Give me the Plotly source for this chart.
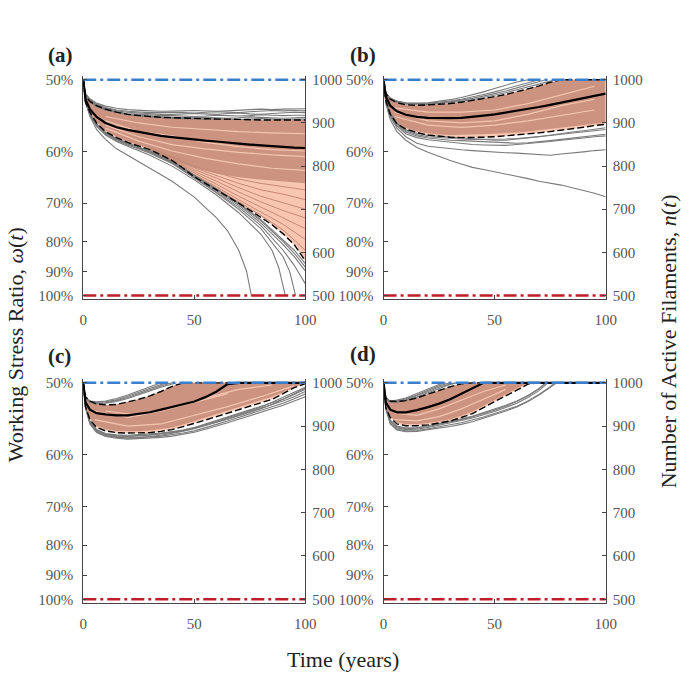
import plotly.graph_objects as go

# ---------------- data (n(t) = number of active filaments) ----------------
T = [0, 1, 3, 6, 10, 15, 20, 25, 30, 35, 40, 45, 50, 55, 60, 65, 70, 75, 80, 85, 90, 95, 100]
N_MAX = 1000
N_FAIL = 500
T_RANGE = [0, 100]

# percent ticks on the left axis: omega = 500 / n
OMEGA_LABELS = ["50%", "60%", "70%", "80%", "90%", "100%"]
OMEGA_VALUES = [0.5, 0.6, 0.7, 0.8, 0.9, 1.0]
N_TICKS = [500, 600, 700, 800, 900, 1000]
X_TICKS = [0, 50, 100]

# ---- panel (a)
A_MEAN = [1000, 955, 932, 914, 900, 890, 884, 879, 874, 870, 867, 864, 862, 859, 857, 854, 852, 850, 848, 846, 845, 843, 842]
A_HI = [1000, 962, 950, 940, 932, 925, 920, 917, 915, 913, 912, 911, 910, 910, 909, 909, 908, 908, 907, 907, 907, 907, 907]
A_LO = [1000, 948, 925, 900, 880, 866, 855, 847, 838, 826, 813, 795, 775, 760, 745, 730, 714, 698, 682, 664, 643, 618, 580]
A_INNER = [1000, 950, 927, 903, 883, 868, 857, 849, 840, 830, 818, 806, 796, 789, 783, 778, 774, 771, 768, 766, 764, 762, 760]
A_UP = [
    [1000, 968, 956, 946, 939, 934, 931, 929, 928, 927, 927, 928, 929, 928, 927, 928, 930, 931, 932, 931, 932, 933, 933],
    [1000, 966, 954, 944, 936, 930, 927, 925, 924, 924, 925, 924, 923, 925, 926, 925, 924, 926, 928, 929, 928, 929, 928],
    [1000, 965, 952, 942, 934, 928, 925, 923, 921, 920, 920, 921, 922, 921, 920, 922, 923, 921, 920, 922, 924, 925, 924],
    [1000, 964, 951, 940, 932, 926, 922, 920, 918, 917, 917, 916, 915, 916, 918, 917, 916, 917, 919, 918, 917, 918, 918],
    [1000, 963, 950, 939, 931, 925, 920, 917, 915, 914, 913, 912, 912, 913, 912, 911, 912, 914, 913, 912, 911, 912, 913],
    [1000, 962, 949, 938, 930, 924, 919, 916, 914, 912, 911, 910, 909, 909, 910, 909, 908, 909, 910, 909, 908, 909, 909],
]
A_LOW_T = [
    [0, 1, 3, 6, 10, 15, 20, 30, 40, 50, 60, 65, 70, 73.5, 75.7],
    [0, 1, 3, 6, 10, 15, 20, 30, 40, 50, 60, 70, 80, 85, 88, 91],
    [0, 1, 3, 6, 10, 15, 20, 30, 40, 50, 60, 70, 80, 90, 93, 95.6],
    [0, 1, 3, 6, 10, 15, 20, 30, 40, 50, 60, 70, 80, 90, 95, 100],
    [0, 1, 3, 6, 10, 15, 20, 30, 40, 50, 60, 70, 80, 90, 95, 100],
    [0, 1, 3, 6, 10, 15, 20, 30, 40, 50, 60, 70, 80, 90, 95, 100],
    [0, 1, 3, 6, 10, 15, 20, 30, 40, 50, 60, 70, 80, 90, 95, 100],
]
A_LOW = [
    [1000, 950, 915, 885, 862, 840, 825, 795, 765, 728, 680, 650, 605, 557, 500],
    [1000, 947, 918, 892, 872, 857, 846, 825, 800, 768, 733, 692, 642, 605, 565, 500],
    [1000, 948, 919, 894, 874, 859, 849, 830, 806, 771, 738, 700, 655, 590, 555, 500],
    [1000, 949, 920, 895, 876, 861, 851, 832, 808, 774, 741, 705, 662, 605, 570, 527],
    [1000, 949, 921, 896, 877, 862, 852, 833, 809, 776, 744, 709, 668, 618, 590, 557],
    [1000, 950, 922, 897, 878, 863, 853, 834, 810, 778, 747, 712, 673, 625, 598, 566],
    [1000, 950, 922, 897, 878, 864, 854, 835, 811, 779, 748, 714, 676, 630, 605, 574],
]
A_PINK_T = [30, 40, 50, 60, 70, 80, 90, 100]
A_PINK = [
    [842, 822, 800, 785, 770, 760, 752, 745],
    [840, 819, 796, 778, 760, 745, 735, 722],
    [839, 817, 792, 772, 750, 730, 715, 700],
    [839, 815, 788, 765, 740, 717, 697, 680],
    [838, 814, 784, 758, 730, 705, 680, 655],
    [838, 813, 780, 752, 722, 694, 665, 630],
    [838, 813, 777, 748, 717, 686, 652, 605],
]
A_STREAK_T = [10, 25, 40, 55, 70, 85, 100]
A_STREAK = [
    [915, 900, 890, 885, 880, 877, 875],
    [895, 868, 850, 840, 832, 826, 822],
    [888, 858, 835, 818, 805, 795, 790],
    [905, 880, 870, 855, 845, 838, 835],
]

# ---- panel (b)
B_MEAN = [1000, 962, 940, 927, 919, 914, 912, 911, 911, 912, 914, 917, 920, 924, 928, 932, 937, 942, 947, 952, 957, 963, 968]
B_HI = [1000, 968, 955, 947, 942, 941, 942, 943, 945, 948, 952, 956, 961, 966, 972, 979, 986, 994, 1000, 1000, 1000, 1000, 1000]
B_LO = [1000, 952, 920, 898, 886, 878, 872, 869, 867, 866, 866, 867, 868, 870, 872, 874, 877, 880, 883, 886, 890, 894, 897]
B_INNER = [1000, 954, 923, 901, 889, 881, 876, 873, 872, 872, 873, 874, 875, 876, 878, 880, 882, 885, 888, 891, 895, 898, 901]
B_UP_T = [
    [0, 1, 3, 6, 10, 15, 20, 25, 30, 35, 40, 45, 50, 55, 60, 65],
    [0, 1, 3, 6, 10, 15, 20, 25, 30, 35, 40, 45, 50, 55, 60, 65, 70],
    [0, 1, 3, 6, 10, 15, 20, 25, 30, 35, 40, 45, 50, 55, 60, 65, 70, 73],
    [0, 1, 3, 6, 10, 15, 20, 25, 30, 35, 40, 45, 50, 55, 60, 65, 70, 75, 78],
]
B_UP = [
    [1000, 970, 958, 951, 947, 946, 947, 950, 954, 959, 965, 972, 980, 988, 995, 1000],
    [1000, 969, 957, 950, 946, 945, 946, 948, 951, 955, 960, 966, 972, 979, 986, 993, 1000],
    [1000, 969, 956, 949, 945, 944, 944, 946, 949, 953, 957, 962, 968, 974, 981, 988, 995, 1000],
    [1000, 968, 956, 948, 944, 943, 943, 945, 947, 950, 954, 959, 964, 970, 977, 984, 991, 997, 1000],
]
B_LOW = [
    [1000, 945, 908, 880, 860, 843, 832, 822, 813, 805, 797, 792, 787, 782, 776, 771, 765, 761, 756, 750, 744, 737, 729],
    [1000, 948, 915, 888, 868, 853, 846, 843, 840, 838, 836, 834, 833, 831, 830, 828, 826, 825, 828, 830, 833, 836, 838],
    [1000, 950, 918, 893, 875, 866, 861, 858, 855, 852, 850, 849, 848, 848, 850, 852, 855, 857, 860, 862, 865, 868, 870],
    [1000, 951, 920, 896, 879, 870, 865, 862, 860, 859, 858, 856, 855, 854, 853, 854, 856, 859, 862, 865, 868, 871, 874],
    [1000, 952, 922, 898, 882, 873, 868, 866, 864, 863, 862, 862, 862, 863, 864, 866, 868, 871, 874, 877, 880, 883, 885],
    [1000, 953, 924, 900, 884, 876, 871, 869, 867, 865, 864, 862, 860, 860, 862, 865, 868, 872, 876, 879, 882, 886, 889],
]
B_STREAK_T = [5, 20, 35, 50, 65, 80, 95]
B_STREAK = [
    [935, 925, 925, 930, 945, 965, 985],
    [915, 895, 890, 895, 905, 918, 930],
    [925, 905, 900, 905, 920, 940, 955],
]

# ---- panel (c)
C_MEAN = [1000, 955, 938, 930, 927, 925, 925, 928, 932, 938, 944, 950, 957, 967, 980, 997, 1000, 1000, 1000, 1000, 1000, 1000, 1000]
C_HI = [1000, 968, 958, 951, 949, 950, 956, 962, 970, 980, 992, 1000, 1000, 1000, 1000, 1000, 1000, 1000, 1000, 1000, 1000, 1000, 1000]
C_LO = [1000, 945, 915, 897, 889, 885, 884, 884, 885, 888, 892, 899, 906, 914, 922, 930, 939, 947, 955, 962, 975, 989, 998]
C_INNER = [1000, 948, 919, 901, 893, 889, 888, 888, 890, 893, 897, 904, 911, 919, 927, 935, 944, 952, 960, 968, 978, 990, 999]
C_UP_T = [
    [0, 1, 3, 6, 10, 15, 20, 25, 30, 35],
    [0, 1, 3, 6, 10, 15, 20, 25, 30, 35, 38],
    [0, 1, 3, 6, 10, 15, 20, 25, 30, 35, 40],
    [0, 1, 3, 6, 10, 15, 20, 25, 30, 35, 40, 42],
]
C_UP = [
    [1000, 966, 958, 956, 958, 964, 972, 981, 991, 1000],
    [1000, 966, 957, 955, 956, 961, 969, 978, 988, 996, 1000],
    [1000, 965, 956, 953, 954, 959, 966, 975, 984, 993, 1000],
    [1000, 965, 955, 952, 953, 957, 964, 972, 981, 990, 997, 1000],
]
C_LOW = [
    [1000, 942, 905, 885, 876, 872, 870, 871, 872, 874, 877, 881, 886, 893, 900, 908, 916, 924, 932, 940, 948, 958, 968],
    [1000, 943, 907, 887, 878, 874, 872, 873, 875, 877, 880, 884, 889, 896, 904, 912, 920, 928, 936, 944, 953, 963, 974],
    [1000, 943, 908, 888, 879, 875, 873, 874, 876, 879, 883, 888, 894, 901, 909, 917, 925, 933, 941, 949, 958, 968, 980],
    [1000, 944, 909, 890, 881, 877, 876, 877, 879, 882, 886, 891, 897, 905, 913, 921, 929, 937, 945, 953, 962, 973, 985],
    [1000, 944, 910, 891, 882, 878, 877, 878, 880, 883, 885, 889, 895, 903, 911, 919, 927, 935, 944, 955, 966, 978, 990],
    [1000, 944, 911, 892, 883, 880, 879, 880, 882, 884, 887, 891, 896, 902, 909, 916, 924, 932, 940, 950, 962, 975, 988],
]
C_STREAK_T = [
    [5, 20, 35, 50, 65],
    [5, 20, 35, 50, 65, 80, 95],
    [10, 25, 40, 55, 70, 85],
]
C_STREAK = [
    [935, 920, 935, 955, 975],
    [915, 900, 905, 925, 945, 968, 993],
    [935, 925, 945, 965, 985, 995],
]

# ---- panel (d)
D_MEAN = [1000, 955, 938, 932, 932, 937, 944, 952, 962, 975, 988, 1000, 1000, 1000, 1000, 1000, 1000, 1000, 1000, 1000, 1000, 1000, 1000]
D_HI = [1000, 965, 958, 957, 959, 965, 974, 983, 991, 998, 1000, 1000, 1000, 1000, 1000, 1000, 1000, 1000, 1000, 1000, 1000, 1000, 1000]
D_LO = [1000, 942, 920, 905, 901, 901, 903, 907, 912, 920, 929, 943, 957, 970, 983, 997, 1000, 1000, 1000, 1000, 1000, 1000, 1000]
D_INNER = [1000, 945, 923, 909, 905, 905, 907, 911, 916, 924, 934, 947, 960, 974, 987, 1000, 1000, 1000, 1000, 1000, 1000, 1000, 1000]
D_UP_T = [
    [0, 1, 3, 6, 10, 15, 20, 25, 28],
    [0, 1, 3, 6, 10, 15, 20, 25, 30],
    [0, 1, 3, 6, 10, 15, 20, 25, 30, 32],
    [0, 1, 3, 6, 10, 15, 20, 25, 30, 33],
]
D_UP = [
    [1000, 965, 958, 960, 965, 975, 986, 996, 1000],
    [1000, 964, 957, 958, 963, 972, 983, 993, 1000],
    [1000, 964, 956, 957, 961, 970, 980, 990, 998, 1000],
    [1000, 963, 955, 955, 959, 967, 977, 987, 996, 1000],
]
D_LOW_T = [
    [0, 1, 3, 6, 10, 15, 20, 25, 30, 35, 40, 45, 50, 55, 60, 65, 70, 75, 78],
    [0, 1, 3, 6, 10, 15, 20, 25, 30, 35, 40, 45, 50, 55, 60, 65, 70, 75, 77],
    [0, 1, 3, 6, 10, 15, 20, 25, 30, 35, 40, 45, 50, 55, 60, 65, 70, 74],
    [0, 1, 3, 6, 10, 15, 20, 25, 30, 35, 40, 45, 50, 55, 60, 65, 70, 73],
    [0, 1, 3, 6, 10, 15, 20, 25, 30, 35, 40, 45, 50, 55, 60, 65, 70, 73],
]
D_LOW = [
    [1000, 940, 905, 891, 887, 888, 892, 895, 899, 904, 910, 918, 926, 935, 944, 957, 972, 990, 1000],
    [1000, 941, 907, 893, 889, 890, 894, 898, 903, 908, 914, 921, 929, 937, 946, 958, 973, 991, 1000],
    [1000, 942, 910, 896, 892, 893, 897, 902, 907, 913, 919, 926, 934, 943, 953, 966, 982, 1000],
    [1000, 943, 912, 898, 894, 895, 899, 904, 909, 915, 922, 929, 937, 946, 957, 970, 986, 1000],
    [1000, 944, 914, 900, 896, 897, 901, 906, 911, 917, 923, 931, 939, 948, 958, 971, 987, 1000],
]
D_STREAK_T = [5, 15, 25, 35, 45, 55]
D_STREAK = [
    [930, 925, 940, 960, 980, 995],
    [915, 912, 922, 940, 962, 985],
]

PANEL_LABELS = ["(a)", "(b)", "(c)", "(d)"]

# ---------------- styling ----------------
FONT = "Liberation Serif, Times New Roman, serif"
GRAY = "rgb(122,122,122)"
LIGHT_FILL = "rgb(248,197,177)"
DARK_FILL = "rgb(204,148,128)"
PINK_LINE = "rgb(196,138,118)"
STREAK = "rgba(250,204,186,0.85)"
BLUE = "rgb(58,126,205)"
RED = "rgb(190,30,42)"
AXIS_COL = "#444444"
TICK_COL = "#555555"

fig = go.Figure()

X_DOM = [[0.1171, 0.4451], [0.5607, 0.8887], [0.1171, 0.4451], [0.5607, 0.8887]]
Y_DOM = [[0.5681, 0.8942], [0.5681, 0.8942], [0.1240, 0.4512], [0.1240, 0.4512]]
Y_RANGE = [491, 1008]


def ax(i):
    k = i + 1
    return ("x" if k == 1 else f"x{k}"), ("y" if k == 1 else f"y{k}")


def line(i, x, y, color, width, dash=None):
    xa, ya = ax(i)
    fig.add_trace(go.Scatter(x=x, y=y, xaxis=xa, yaxis=ya, mode="lines",
                             line=dict(color=color, width=width, dash=dash),
                             hoverinfo="skip", showlegend=False))


def band(i, t, hi, lo, color):
    xa, ya = ax(i)
    fig.add_trace(go.Scatter(x=list(t) + list(t)[::-1], y=list(hi) + list(lo)[::-1],
                             xaxis=xa, yaxis=ya, mode="lines", fill="toself",
                             fillcolor=color, line=dict(width=0),
                             hoverinfo="skip", showlegend=False))


panels = [
    dict(mean=A_MEAN, hi=A_HI, lo=A_LO, inner=A_INNER,
         up=[(T, u) for u in A_UP], low=list(zip(A_LOW_T, A_LOW)),
         pink=[(A_PINK_T, p) for p in A_PINK], streak=[(A_STREAK_T, s) for s in A_STREAK]),
    dict(mean=B_MEAN, hi=B_HI, lo=B_LO, inner=B_INNER,
         up=list(zip(B_UP_T, B_UP)), low=[(T, l) for l in B_LOW],
         pink=[], streak=[(B_STREAK_T, s) for s in B_STREAK]),
    dict(mean=C_MEAN, hi=C_HI, lo=C_LO, inner=C_INNER,
         up=list(zip(C_UP_T, C_UP)), low=[(T, l) for l in C_LOW],
         pink=[], streak=list(zip(C_STREAK_T, C_STREAK))),
    dict(mean=D_MEAN, hi=D_HI, lo=D_LO, inner=D_INNER,
         up=list(zip(D_UP_T, D_UP)), low=list(zip(D_LOW_T, D_LOW)),
         pink=[], streak=[(D_STREAK_T, s) for s in D_STREAK]),
]

for i, p in enumerate(panels):
    band(i, T, p["hi"], p["lo"], LIGHT_FILL)
    band(i, T, p["hi"], p["inner"], DARK_FILL)
    for tt, yy in p["pink"]:
        line(i, tt, yy, PINK_LINE, 1)
    for tt, yy in p["streak"]:
        line(i, tt, yy, STREAK, 1.2)
    for tt, yy in p["up"]:
        line(i, tt, yy, GRAY, 1.1)
    for tt, yy in p["low"]:
        line(i, tt, yy, GRAY, 1.1)
    line(i, T, p["hi"], "black", 1.4, "7px,3px")
    line(i, T, p["lo"], "black", 1.4, "7px,3px")
    line(i, T, p["mean"], "black", 2.2)
    line(i, T_RANGE, [N_MAX, N_MAX], BLUE, 2.5, "13px,4px,3px,4px")
    line(i, T_RANGE, [N_FAIL, N_FAIL], RED, 2.5, "13px,4px,3px,4px")
    # dummy trace so the right axis is built
    xa, _ = ax(i)
    fig.add_trace(go.Scatter(x=[T_RANGE[0]], y=[N_FAIL], xaxis=xa, yaxis=f"y{i + 5}",
                             mode="markers", marker=dict(opacity=0),
                             hoverinfo="skip", showlegend=False))

layout = dict(
    autosize=True,
    margin=dict(l=0, r=0, t=0, b=0),
    paper_bgcolor="white", plot_bgcolor="white",
    font=dict(family=FONT, color=TICK_COL, size=15),
    showlegend=False,
)

left_ticks_n = [N_FAIL / w for w in OMEGA_VALUES]

for i in range(4):
    k = i + 1
    xname = "xaxis" if k == 1 else f"xaxis{k}"
    yname = "yaxis" if k == 1 else f"yaxis{k}"
    xa, ya = ax(i)
    layout[xname] = dict(domain=X_DOM[i], anchor=ya, range=T_RANGE, tickvals=X_TICKS,
                         ticks="inside", ticklen=4, tickcolor=AXIS_COL,
                         showline=True, linecolor=AXIS_COL, linewidth=1,
                         showgrid=False, zeroline=False, ticklabelstandoff=7,
                         tickfont=dict(family=FONT, size=15, color=TICK_COL))
    layout[yname] = dict(domain=Y_DOM[i], anchor=xa, range=Y_RANGE, side="left",
                         tickvals=left_ticks_n, ticktext=OMEGA_LABELS,
                         ticks="inside", ticklen=4, tickcolor=AXIS_COL,
                         showline=True, linecolor=AXIS_COL, linewidth=1,
                         showgrid=False, zeroline=False, ticklabelstandoff=6,
                         tickfont=dict(family=FONT, size=15, color=TICK_COL))
    layout[f"yaxis{k + 4}"] = dict(overlaying=ya, anchor=xa, range=Y_RANGE, side="right",
                                   tickvals=N_TICKS, ticks="inside", ticklen=4, tickcolor=AXIS_COL,
                                   showline=True, linecolor=AXIS_COL, linewidth=1,
                                   showgrid=False, zeroline=False, ticklabelstandoff=3,
                                   tickfont=dict(family=FONT, size=15, color=TICK_COL))

ann = []
label_pos = [(0.0838, 0.9249), (0.5303, 0.9249), (0.0824, 0.4855), (0.5303, 0.4884)]
for (lx, ly), lab in zip(label_pos, PANEL_LABELS):
    ann.append(dict(text=f"<b>{lab}</b>", x=lx, y=ly, xref="paper", yref="paper",
                    xanchor="center", yanchor="middle", showarrow=False,
                    font=dict(family=FONT, size=21, color="#222")))
ann.append(dict(text="Time (years)", x=0.5014, y=0.0419, xref="paper", yref="paper",
                xanchor="center", yanchor="middle", showarrow=False,
                font=dict(family=FONT, size=22, color="#222")))
ann.append(dict(text="Working Stress Ratio, <i>ω</i>(<i>t</i>)", x=0.0165, y=0.5014,
                xref="paper", yref="paper", xanchor="center", yanchor="middle",
                textangle=-90, showarrow=False, font=dict(family=FONT, size=22, color="#222")))
ann.append(dict(text="Number of Active Filaments, <i>n</i>(<i>t</i>)", x=0.981, y=0.507,
                xref="paper", yref="paper", xanchor="center", yanchor="middle",
                textangle=-90, showarrow=False, font=dict(family=FONT, size=22, color="#222")))
layout["annotations"] = ann

fig.update_layout(**layout)
fig.write_html(
    "out.html",
    config={"displayModeBar": False, "responsive": True},
    default_width="100vw",
    default_height="100vh",
    post_script=(
        "document.documentElement.style.margin='0';document.documentElement.style.padding='0';"
        "document.documentElement.style.overflow='hidden';"
        "document.body.style.margin='0';document.body.style.padding='0';"
        "document.body.style.overflow='hidden';"
        "Plotly.Plots.resize(document.getElementById('{plot_id}'));"
    ),
)
